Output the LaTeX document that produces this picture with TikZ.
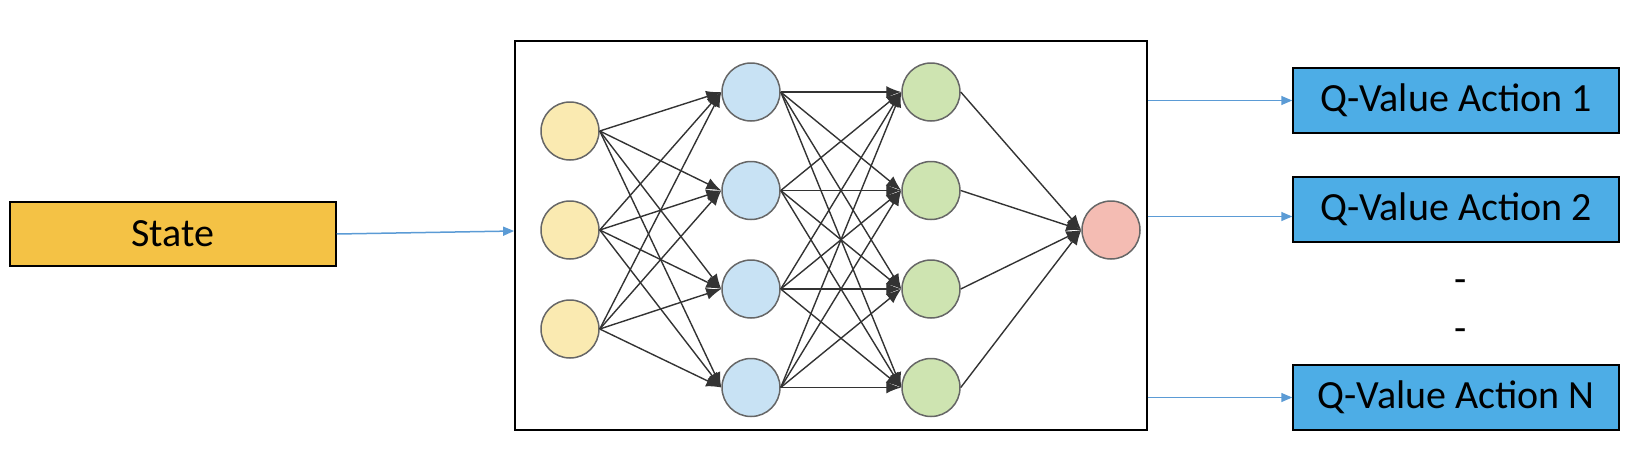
\documentclass[tikz,border=0pt]{standalone}
\usepackage{fontspec}
\setmainfont{Carlito}
\usepackage{xcolor}
\usepackage{tikz}
\usetikzlibrary{shapes,positioning,arrows.meta}
\tikzset{>=Latex}

\definecolor{stateyellow}{HTML}{F4C245}
\definecolor{qblue}{HTML}{4DADE6}
\definecolor{linkblue}{HTML}{5B9BD5}
\definecolor{inyellow}{HTML}{FAEAB1}
\definecolor{hidblue}{HTML}{C8E2F4}
\definecolor{hidgreen}{HTML}{CEE4B1}
\definecolor{outred}{HTML}{F4BCB3}
\definecolor{ringgray}{HTML}{666666}
\definecolor{wiregray}{HTML}{333333}

\begin{document}
\begin{tikzpicture}[x=1pt,y=-1pt,
neuron/.style={circle, draw=ringgray, line width=1.5pt, minimum size=58pt, inner sep=0pt},
inputneuron/.style={neuron, fill=inyellow},
hiddenneuron/.style={neuron, fill=hidblue},
secondneuron/.style={neuron, fill=hidgreen},
outputneuron/.style={neuron, fill=outred},
netframe/.style={rectangle, draw=black, line width=1.8pt, minimum width=632pt, minimum height=389pt},
squarednode/.style={rectangle, align=center, draw=black, line width=1.5pt, minimum width=326pt, minimum height=64pt, font=\fontsize{40}{47}\selectfont},
statenode/.style={squarednode, fill=stateyellow},
qnode/.style={squarednode, fill=qblue, minimum height=65pt},
gapnode/.style={font=\fontsize{40}{47}\selectfont, inner sep=0pt},
wire/.style={-{Latex[length=15pt,width=12pt]}, draw=wiregray, line width=1.4pt},
link/.style={-{Triangle[length=11pt,width=9pt]}, draw=linkblue, line width=1.5pt},
]
\useasboundingbox (0,0) rectangle (1642,450);

%Nodes
\node[statenode](State) at (173,234){State};
\node[netframe](Net) at (831,235.5){};

\node[inputneuron](In1) at (570,131){};
\node[inputneuron](In2)[below=39.5pt of In1]{};
\node[inputneuron](In3)[below=39.5pt of In2]{};

\node[hiddenneuron](Hid1) at (751,92){};
\node[hiddenneuron](Hid2)[below=39pt of Hid1]{};
\node[hiddenneuron](Hid3)[below=39pt of Hid2]{};
\node[hiddenneuron](Hid4)[below=39pt of Hid3]{};

\node[secondneuron](Sec1) at (931,92){};
\node[secondneuron](Sec2)[below=39pt of Sec1]{};
\node[secondneuron](Sec3)[below=39pt of Sec2]{};
\node[secondneuron](Sec4)[below=39pt of Sec3]{};

\node[outputneuron](Out) at (1111,230){};

\node[qnode](Q1) at (1456,100.5){Q-Value Action 1};
\node[qnode](Q2)[below=42.5pt of Q1]{Q-Value Action 2};
\node[gapnode](Gap1) at (1461,286){-};
\node[gapnode](Gap2) at (1461,335){-};
\node[qnode](QN) at (1456,397.5){Q-Value Action N};

%Lines
\draw[wire] (In1.east) -- (Hid1.west);
\draw[wire] (In1.east) -- (Hid2.west);
\draw[wire] (In1.east) -- (Hid3.west);
\draw[wire] (In1.east) -- (Hid4.west);
\draw[wire] (In2.east) -- (Hid1.west);
\draw[wire] (In2.east) -- (Hid2.west);
\draw[wire] (In2.east) -- (Hid3.west);
\draw[wire] (In2.east) -- (Hid4.west);
\draw[wire] (In3.east) -- (Hid1.west);
\draw[wire] (In3.east) -- (Hid2.west);
\draw[wire] (In3.east) -- (Hid3.west);
\draw[wire] (In3.east) -- (Hid4.west);

\draw[wire] (Hid1.east) -- (Sec1.west);
\draw[wire] (Hid1.east) -- (Sec2.west);
\draw[wire] (Hid1.east) -- (Sec3.west);
\draw[wire] (Hid1.east) -- (Sec4.west);
\draw[wire] (Hid2.east) -- (Sec1.west);
\draw[wire] (Hid2.east) -- (Sec2.west);
\draw[wire] (Hid2.east) -- (Sec3.west);
\draw[wire] (Hid2.east) -- (Sec4.west);
\draw[wire] (Hid3.east) -- (Sec1.west);
\draw[wire] (Hid3.east) -- (Sec2.west);
\draw[wire] (Hid3.east) -- (Sec3.west);
\draw[wire] (Hid3.east) -- (Sec4.west);
\draw[wire] (Hid4.east) -- (Sec1.west);
\draw[wire] (Hid4.east) -- (Sec2.west);
\draw[wire] (Hid4.east) -- (Sec3.west);
\draw[wire] (Hid4.east) -- (Sec4.west);

\draw[wire] (Sec1.east) -- (Out.west);
\draw[wire] (Sec2.east) -- (Out.west);
\draw[wire] (Sec3.east) -- (Out.west);
\draw[wire] (Sec4.east) -- (Out.west);

\draw[link] (State.east) -- ([yshift=4.5pt]Net.west);
\draw[link] (Net.east |- Q1.west) -- (Q1.west);
\draw[link] ([yshift=-7pt]Net.east |- Q2.west) -- ([yshift=-7pt]Q2.west);
\draw[link] (Net.east |- QN.west) -- (QN.west);
\end{tikzpicture}
\end{document}
